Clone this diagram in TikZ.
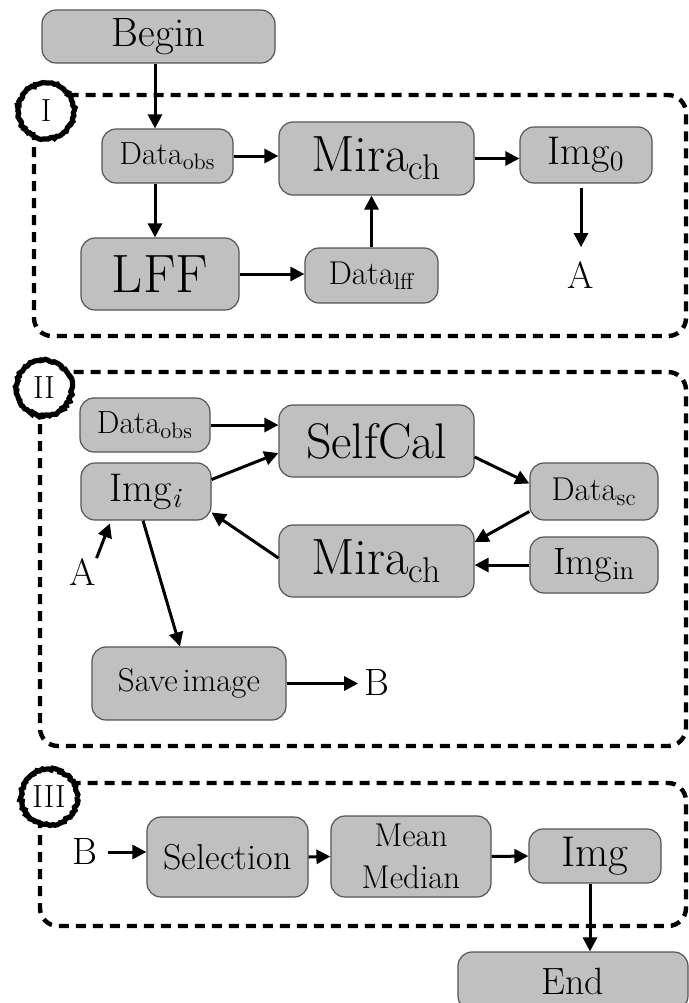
\documentclass[tikz,border=0pt]{standalone}
\usetikzlibrary{arrows.meta,decorations.pathmorphing}
\definecolor{boxfill}{RGB}{192,192,192}
\definecolor{boxline}{RGB}{85,85,85}
\tikzset{
 box/.style={draw=boxline, fill=boxfill, line width=0.6pt, rounded corners=7pt, inner sep=0pt, align=center},
 arr/.style={line width=1.5pt, -{Triangle[length=7pt,width=7pt]}},
 zone/.style={line width=2.2pt, dash pattern=on 5pt off 3.5pt, rounded corners=9pt},
 ring/.style={circle, draw, fill=white, line width=2.6pt, minimum size=28pt, inner sep=0pt,
   font=\fontsize{16}{16}\selectfont, decorate, decoration={random steps, segment length=1.1pt, amplitude=0.6pt}},
 lab/.style={inner sep=0pt, font=\fontsize{19}{19}\selectfont},
}
\begin{document}
\begin{tikzpicture}[x=0.5pt,y=-0.5pt]
\useasboundingbox (0,0) rectangle (689,1003);
% zones
\draw[zone] (34,95) rectangle (686,336);
\draw[zone] (40,372) rectangle (686,746);
\draw[zone] (40,783) rectangle (686,926);
\node[ring] (ringI) at (46,111) {I};
\node[ring] (ringII) at (44,388) {II};
\node[ring] (ringIII) at (49,797) {III};
% part I
\node[box, minimum width=116.5pt, minimum height=26.5pt, font=\fontsize{20.5}{20.5}\selectfont] (begin) at (158.5,36.5) {Begin};
\node[box, minimum width=65.5pt, minimum height=27pt, font=\fontsize{16}{16}\selectfont] (dobs1) at (167.5,156) {Data\textsubscript{obs}};
\node[box, minimum width=97.5pt, minimum height=36.5pt, font=\fontsize{25.5}{25.5}\selectfont] (mira1) at (376.5,158.5) {Mira\textsubscript{ch}};
\node[box, minimum width=66pt, minimum height=28pt, font=\fontsize{20}{20}\selectfont] (img0) at (586,155) {Img\textsubscript{0}};
\node[box, minimum width=79pt, minimum height=36pt, font=\fontsize{27}{27}\selectfont] (lff) at (160,274) {LFF};
\node[box, minimum width=66.5pt, minimum height=27.5pt, font=\fontsize{16.5}{16.5}\selectfont] (dlff) at (371.5,275.5) {Data\textsubscript{lff}};
\node[lab] (A1) at (581,275) {A};
% part II
\node[box, minimum width=65pt, minimum height=27pt, font=\fontsize{16}{16}\selectfont] (dobs2) at (145,425) {Data\textsubscript{obs}};
\node[box, minimum width=97.5pt, minimum height=36pt, font=\fontsize{25}{25}\selectfont] (selfcal) at (376.5,441) {SelfCal};
\node[box, minimum width=65pt, minimum height=28.5pt, font=\fontsize{20}{20}\selectfont] (imgi) at (146,491.5) {Img\textsubscript{\textit{i}}};
\node[box, minimum width=64pt, minimum height=28.5pt, font=\fontsize{16.5}{16.5}\selectfont] (dsc) at (594,491.5) {Data\textsubscript{sc}};
\node[box, minimum width=97.5pt, minimum height=36pt, font=\fontsize{25.5}{25.5}\selectfont] (mira2) at (376.5,561) {Mira\textsubscript{ch}};
\node[box, minimum width=64pt, minimum height=28pt, font=\fontsize{19}{19}\selectfont] (imgin) at (594,565) {Img\textsubscript{in}};
\node[lab] (A2) at (83,572) {A};
\node[box, minimum width=97pt, minimum height=36.5pt, font=\fontsize{16.5}{16.5}\selectfont] (save) at (189,683.5) {Save\hspace{0.15em}image};
\node[lab] (B2) at (377,683) {B};
% part III
\node[lab] (B3) at (85,852) {B};
\node[box, minimum width=80.5pt, minimum height=40pt, font=\fontsize{18}{18}\selectfont] (sel) at (227.5,857) {Selection};
\node[box, minimum width=80pt, minimum height=40.5pt, font=\fontsize{16.5}{21}\selectfont] (mean) at (411,856.5) {Mean\\Median};
\node[box, minimum width=66pt, minimum height=27pt, font=\fontsize{21.5}{21.5}\selectfont] (img) at (595,856) {Img};
\node[box, minimum width=115pt, minimum height=29pt, font=\fontsize{19}{19}\selectfont] (end) at (573,981) {End};
% arrows I
\draw[arr] ([xshift=-1.75pt]begin.south) -- ([xshift=-1.75pt]begin.south |- dobs1.north);
\draw[arr] (dobs1.east) -- (dobs1.east -| mira1.west);
\draw[arr] (mira1.east) -- (mira1.east -| img0.west);
\draw[arr] ([xshift=-6.25pt]dobs1.south) -- ([xshift=-6.25pt]dobs1.south |- lff.north);
\draw[arr] (lff.east) -- (lff.east -| dlff.west);
\draw[arr] (dlff.north) -- (dlff.north |- mira1.south);
\draw[arr, shorten <=2pt, shorten >=7pt] (img0.south -| A1.north) -- (A1.north);
% arrows II
\draw[arr] (dobs2.east) -- (dobs2.east -| selfcal.west);
\draw[arr] ([yshift=6pt]imgi.east) -- ([yshift=-6pt]selfcal.west);
\draw[arr] ([yshift=-8pt]selfcal.east) -- ([yshift=4pt]dsc.west);
\draw[arr] ([yshift=-10pt]dsc.west) -- ([yshift=9.5pt]mira2.east);
\draw[arr] (imgin.west) -- (imgin.west -| mira2.east);
\draw[arr] ([yshift=1.5pt]mira2.west) -- ([yshift=-10.5pt]imgi.east);
\draw[arr, shorten >=1.5pt] (A2.north east) -- ([xshift=-17.5pt]imgi.south);
\draw[arr] ([xshift=-1.5pt]imgi.south) -- ([xshift=-4.5pt]save.north);
\draw[arr, shorten >=3pt] (save.east) -- (save.east -| B2.west);
% arrows III
\draw[arr, shorten <=5pt] (B3.east) -- (B3.east -| sel.west);
\draw[arr] (sel.east) -- (mean.west);
\draw[arr] (mean.east) -- (img.west);
\draw[arr] ([xshift=-2.5pt]img.south) -- ([xshift=-2.5pt]img.south |- end.north);
\end{tikzpicture}
\end{document}
